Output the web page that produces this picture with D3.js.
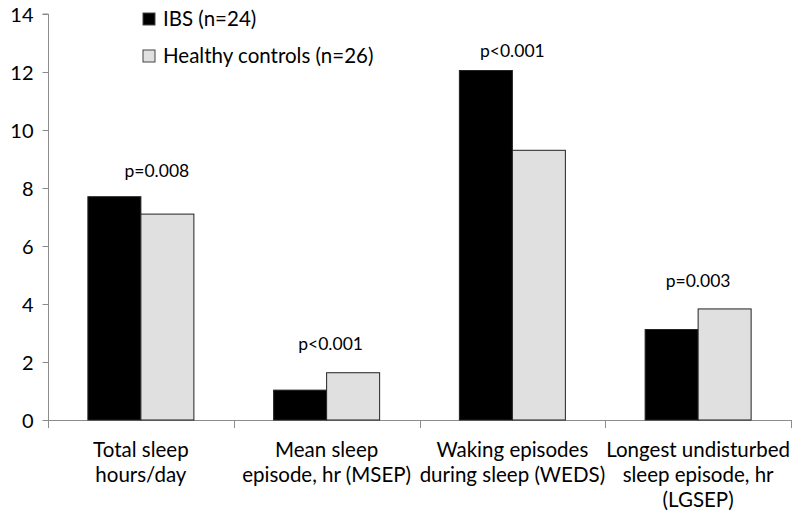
<!DOCTYPE html>
<html><head><meta charset="utf-8">
<script src="https://cdn.jsdelivr.net/npm/d3@7/dist/d3.min.js"></script>
<style>body{margin:0;background:#fff}svg{display:block}text{font-family:Lato,"Open Sans",sans-serif;fill:#000}</style>
</head><body><svg id="c" width="800" height="522"></svg>
<script>
const categories = [
  ["Total sleep","hours/day"],
  ["Mean sleep","episode, hr (MSEP)"],
  ["Waking episodes","during sleep (WEDS)"],
  ["Longest undisturbed","sleep episode, hr","(LGSEP)"]
];
const seriesNames = ["IBS (n=24)", "Healthy controls (n=26)"];
const ibs = [7.7, 1.03, 12.05, 3.12];
const controls = [7.1, 1.63, 9.3, 3.83];
const pLabels = ["p=0.008", "p<0.001", "p<0.001", "p=0.003"];
const pLabelY = [8.38, 2.41, 12.52, 4.59];
const yTicks = [0,2,4,6,8,10,12,14];

(function(){
const svg = d3.select("#c");
const mLeft = 48, mRight = 791, mTop = 14, mBottom = 420;
const x = d3.scaleBand().domain(d3.range(categories.length)).range([mLeft, mRight]).paddingInner(0).paddingOuter(0);
const y = d3.scaleLinear().domain([0,14]).range([mBottom, mTop]);
const colors = ["#000000", "#e0e0e0"];
const barW = 53;
const series = [ibs, controls];

const yAxis = svg.append("g").attr("transform", `translate(${mLeft + 0.5},0)`).call(d3.axisLeft(y).tickValues(yTicks).tickSize(6).tickPadding(9).tickFormat(d3.format("d")));
yAxis.select(".domain").attr("stroke", "#8c8c8c").attr("d", `M-6,${y(14)}H0V${mBottom}`);
yAxis.selectAll(".tick line").attr("stroke", "#8c8c8c");
yAxis.selectAll(".tick text").style("font-size", "20px").attr("dy", "0.35em");

const xAxisG = svg.append("g");
xAxisG.append("line").attr("x1", mLeft).attr("x2", mRight).attr("y1", mBottom + 0.5).attr("y2", mBottom + 0.5).attr("stroke", "#8c8c8c");
const boundaries = d3.range(categories.length + 1).map(i => i < categories.length ? x(i) : x(categories.length - 1) + x.bandwidth());
xAxisG.selectAll("line.tk").data(boundaries).join("line").attr("class","tk")
  .attr("x1", d => Math.round(d) + 0.5).attr("x2", d => Math.round(d) + 0.5)
  .attr("y1", mBottom).attr("y2", mBottom + 8).attr("stroke", "#8c8c8c");

series.forEach((vals, s) => {
  svg.append("g").selectAll("rect").data(vals).join("rect")
    .attr("x", (d, i) => x(i) + x.bandwidth() / 2 - barW + s * barW)
    .attr("y", d => y(d))
    .attr("width", barW)
    .attr("height", d => mBottom - y(d))
    .attr("fill", colors[s])
    .attr("stroke", "#222")
    .attr("stroke-width", 1);
});

const pOffset = [16, 4, 0, 0];
svg.append("g").selectAll("text").data(pLabels).join("text")
  .attr("x", (d, i) => x(i) + x.bandwidth() / 2 + pOffset[i])
  .attr("y", (d, i) => y(pLabelY[i]))
  .attr("text-anchor", "middle")
  .style("font-size", "17.5px")
  .text(d => d);

const cl = svg.append("g");
categories.forEach((lines, i) => {
  const t = cl.append("text").attr("text-anchor", "middle").style("font-size", "20.5px");
  lines.forEach((ln, j) => {
    t.append("tspan").attr("x", x(i) + x.bandwidth() / 2).attr("y", 457 + j * 25).text(ln);
  });
});

const lg = svg.append("g");
seriesNames.forEach((n, s) => {
  const yy = 13 + s * 37;
  lg.append("rect").attr("x", 143).attr("y", yy).attr("width", 12).attr("height", 12)
    .attr("fill", colors[s]).attr("stroke", "#444").attr("stroke-width", 1);
  lg.append("text").attr("x", 163).attr("y", yy + 12.5).style("font-size", "20.5px").text(n);
});
})();
</script></body></html>
